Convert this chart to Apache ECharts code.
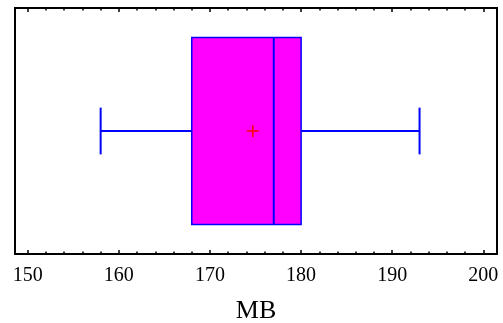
<!DOCTYPE html>
<html>
<head>
<meta charset="utf-8">
<script src="https://cdn.jsdelivr.net/npm/echarts@6/dist/echarts.min.js"></script>
<style>
  html, body { margin: 0; padding: 0; background: #fff; }
  #chart { width: 503px; height: 323px; }
</style>
</head>
<body>
<div id="chart"></div>
<script>
// box plot stats for MB: min, Q1, median, Q3, max
const variableName = "MB";
const boxStats = [158, 168, 177, 180, 193];
const meanValue = 174.7;
const majorTicks = [150, 160, 170, 180, 190, 200];
const minorTicks = [152, 154, 156, 158, 162, 164, 166, 168, 172, 174, 176, 178,
  182, 184, 186, 188, 192, 194, 196, 198];

const FONT = "Liberation Serif";
const X_MIN = 148.6;
const X_MAX = 201.5;

const chart = echarts.init(document.getElementById("chart"));

function tickAxis(pos, values, len, labels) {
  return {
    type: "value",
    position: pos,
    min: X_MIN,
    max: X_MAX,
    axisLine: { show: false },
    splitLine: { show: false },
    axisTick: {
      show: true, inside: true, length: len, customValues: values,
      lineStyle: { color: "#000", width: 1.5 }
    },
    axisLabel: labels ? {
      show: true, customValues: values, color: "#000",
      fontFamily: FONT, fontSize: 20, margin: 12
    } : { show: false }
  };
}

const bottomAxis = tickAxis("bottom", majorTicks, 4, true);
bottomAxis.name = variableName;
bottomAxis.nameLocation = "middle";
bottomAxis.nameGap = 44;
bottomAxis.nameTextStyle = { color: "#000", fontFamily: FONT, fontSize: 26 };

chart.setOption({
  animation: false,
  backgroundColor: "#fff",
  grid: {
    left: 15, right: 6, top: 8, bottom: 69,
    containLabel: false, outerBoundsMode: "none",
    show: true, borderColor: "#000", borderWidth: 2, backgroundColor: "transparent"
  },
  xAxis: [
    bottomAxis,
    tickAxis("bottom", minorTicks, 2.5, false),
    tickAxis("top", majorTicks, 4, false),
    tickAxis("top", minorTicks, 2.5, false)
  ],
  yAxis: { type: "value", min: 0, max: 1, show: false },
  series: [{
    type: "custom",
    xAxisIndex: 0,
    data: [[...boxStats, meanValue]],
    renderItem: function (params, api) {
      const lo = api.value(0), q1 = api.value(1), med = api.value(2);
      const q3 = api.value(3), hi = api.value(4), mean = api.value(5);
      const c = (x, y) => api.coord([x, y]);
      const blue = { stroke: "#0000ff", lineWidth: 2 };
      const line = (a, b, style) => ({
        type: "line",
        shape: { x1: a[0], y1: a[1], x2: b[0], y2: b[1] },
        style: style
      });
      const bTop = c(q1, 0.88), bBot = c(q3, 0.12);
      const m = c(mean, 0.5);
      return {
        type: "group",
        children: [
          line(c(lo, 0.5), c(q1, 0.5), blue),
          line(c(q3, 0.5), c(hi, 0.5), blue),
          line(c(lo, 0.405), c(lo, 0.595), blue),
          line(c(hi, 0.405), c(hi, 0.595), blue),
          {
            type: "rect",
            shape: { x: bTop[0], y: bTop[1], width: bBot[0] - bTop[0], height: bBot[1] - bTop[1] },
            style: { fill: "#ff00ff", stroke: "#0000ff", lineWidth: 1.5 }
          },
          line(c(med, 0.88), c(med, 0.12), blue),
          line([m[0] - 6, m[1]], [m[0] + 6, m[1]], { stroke: "#ff0000", lineWidth: 1.5 }),
          line([m[0], m[1] - 6], [m[0], m[1] + 6], { stroke: "#ff0000", lineWidth: 1.5 })
        ]
      };
    }
  }]
});
</script>
</body>
</html>
